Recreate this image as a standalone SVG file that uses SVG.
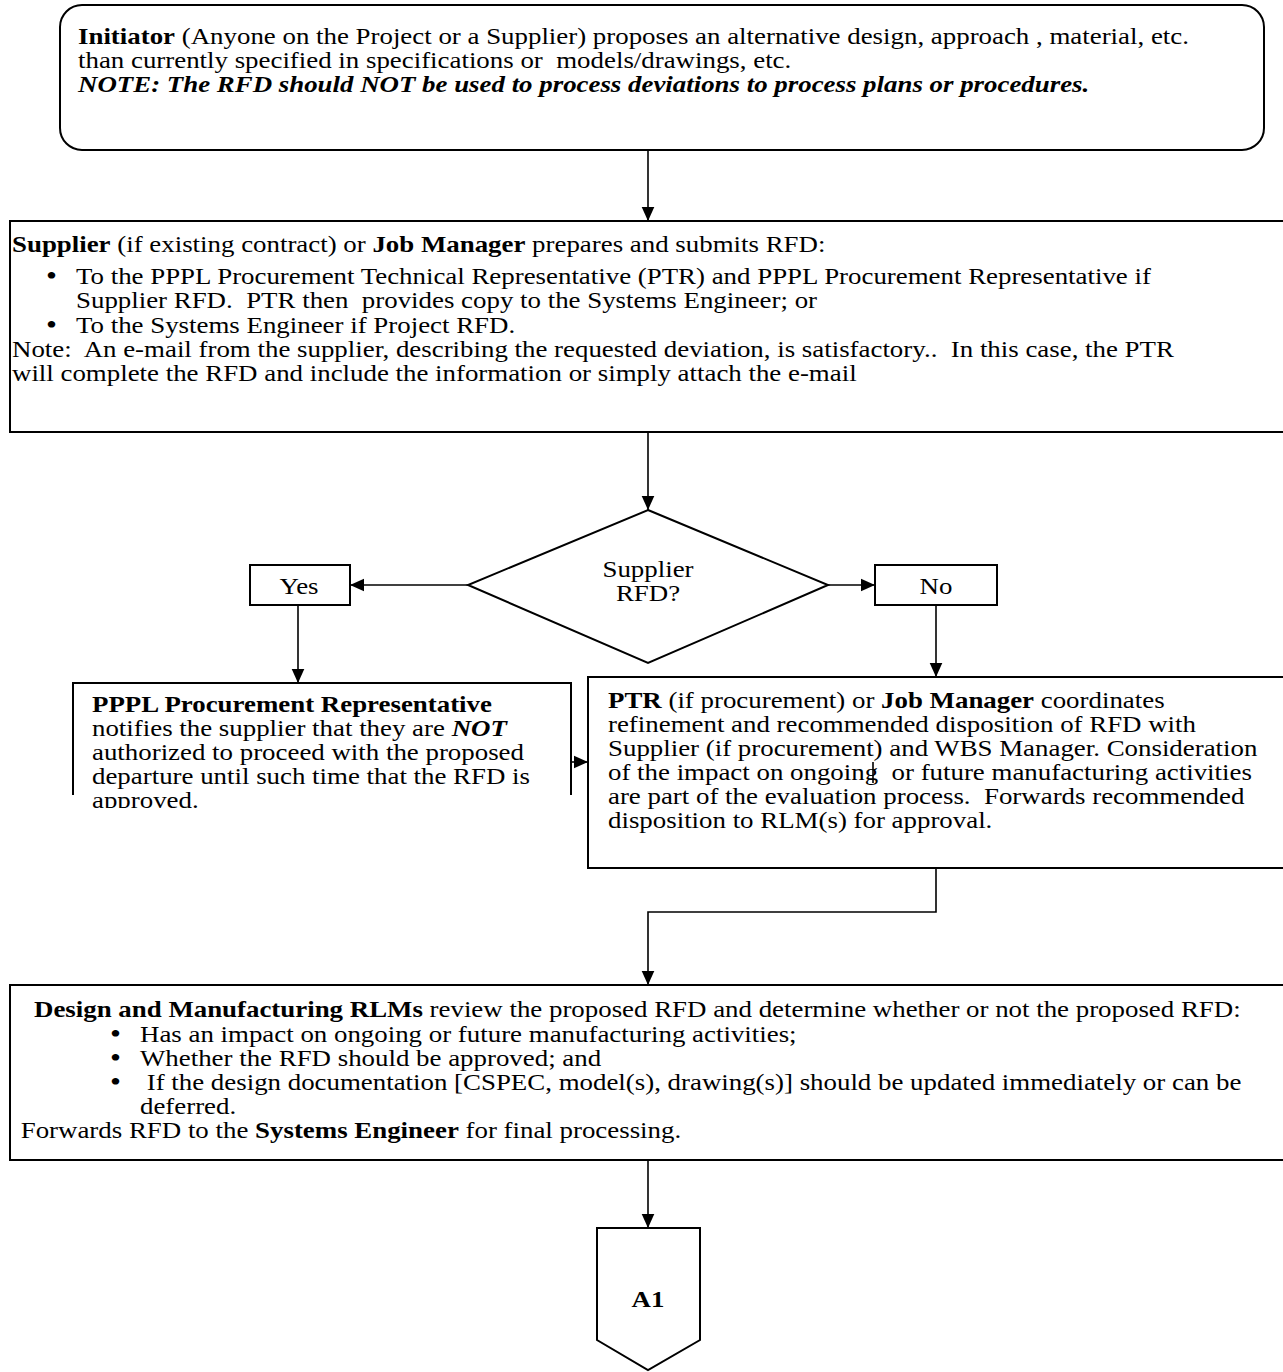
<svg xmlns="http://www.w3.org/2000/svg" width="1283" height="1372" viewBox="0 0 1283 1372">
<style>
text{font-family:"Liberation Serif","Times New Roman",serif;font-size:24px;fill:#000;white-space:pre}
.b{font-weight:bold}
.bi{font-weight:bold;font-style:italic}
.bul{font-size:28px}
.box{fill:#fff;stroke:#000;stroke-width:2}
.ln{fill:none;stroke:#000;stroke-width:1.6}
.mid{text-anchor:middle}
</style>
<defs>
<marker id="ah2" viewBox="0 0 10 10" refX="10" refY="5" markerWidth="15" markerHeight="14" markerUnits="userSpaceOnUse" orient="auto">
<path d="M0,0.5 L10,5 L0,9.5 z" fill="#000"/>
</marker>
<clipPath id="clipL"><rect x="60" y="680" width="520" height="128"/></clipPath>
</defs>

<g id="connectors">
<line class="ln" x1="648" y1="150" x2="648" y2="221" marker-end="url(#ah2)"/>
<line class="ln" x1="648" y1="432" x2="648" y2="510" marker-end="url(#ah2)"/>
<line class="ln" x1="468" y1="585" x2="350" y2="585" marker-end="url(#ah2)"/>
<line class="ln" x1="828" y1="585" x2="875" y2="585" marker-end="url(#ah2)"/>
<line class="ln" x1="298" y1="605" x2="298" y2="683" marker-end="url(#ah2)"/>
<line class="ln" x1="936" y1="605" x2="936" y2="677" marker-end="url(#ah2)"/>
<line class="ln" x1="571" y1="762" x2="588" y2="762" marker-end="url(#ah2)"/>
<polyline class="ln" points="936,868 936,912 648,912 648,985" marker-end="url(#ah2)"/>
<line class="ln" x1="648" y1="1160" x2="648" y2="1228" marker-end="url(#ah2)"/>
</g>

<g id="initiator">
<rect class="box" x="60" y="5" width="1204" height="145" rx="22" ry="22"/>
<text transform="translate(78 44) scale(1.12 1)"><tspan class="b">Initiator</tspan> (Anyone on the Project or a Supplier) proposes an alternative design, approach , material, etc.</text>
<text transform="translate(78 68) scale(1.12 1)">than currently specified in specifications or  models/drawings, etc.</text>
<text class="bi" transform="translate(78 92) scale(1.12 1)">NOTE: The RFD should NOT be used to process deviations to process plans or procedures.</text>
</g>

<g id="submit">
<rect class="box" x="10" y="221" width="1290" height="211"/>
<text transform="translate(12 252) scale(1.12 1)"><tspan class="b">Supplier</tspan> (if existing contract) or <tspan class="b">Job Manager</tspan> prepares and submits RFD:</text>
<text class="bul" transform="translate(46 285) scale(1.12 1)">•</text>
<text transform="translate(76 284) scale(1.12 1)">To the PPPL Procurement Technical Representative (PTR) and PPPL Procurement Representative if</text>
<text transform="translate(76 308) scale(1.12 1)">Supplier RFD.  PTR then  provides copy to the Systems Engineer; or</text>
<text class="bul" transform="translate(46 334) scale(1.12 1)">•</text>
<text transform="translate(76 333) scale(1.12 1)">To the Systems Engineer if Project RFD.</text>
<text transform="translate(12 357) scale(1.12 1)">Note:  An e-mail from the supplier, describing the requested deviation, is satisfactory..  In this case, the PTR</text>
<text transform="translate(12 381) scale(1.12 1)">will complete the RFD and include the information or simply attach the e-mail</text>
</g>

<g id="decision">
<polygon class="box" points="648,510 828,585 648,663 468,585"/>
<text class="mid" transform="translate(648 577) scale(1.12 1)">Supplier</text>
<text class="mid" transform="translate(648 601) scale(1.12 1)">RFD?</text>
</g>

<g id="yes">
<rect class="box" x="250" y="565" width="100" height="40"/>
<text class="mid" transform="translate(299 594) scale(1.12 1)">Yes</text>
</g>

<g id="no">
<rect class="box" x="875" y="565" width="122" height="40"/>
<text class="mid" transform="translate(936 594) scale(1.12 1)">No</text>
</g>

<g id="notify">
<path class="ln" style="stroke-width:2" d="M73,795 L73,683 L571,683 L571,795"/>
<g clip-path="url(#clipL)">
<text class="b" transform="translate(92 712) scale(1.12 1)">PPPL Procurement Representative</text>
<text transform="translate(92 736) scale(1.12 1)">notifies the supplier that they are <tspan class="bi">NOT</tspan></text>
<text transform="translate(92 760) scale(1.12 1)">authorized to proceed with the proposed</text>
<text transform="translate(92 784) scale(1.12 1)">departure until such time that the RFD is</text>
<text transform="translate(92 808) scale(1.12 1)">approved.</text>
</g>
</g>

<g id="coordinate">
<rect class="box" x="588" y="677" width="710" height="191"/>
<text transform="translate(608 708) scale(1.12 1)"><tspan class="b">PTR</tspan> (if procurement) or <tspan class="b">Job Manager</tspan> coordinates</text>
<text transform="translate(608 732) scale(1.12 1)">refinement and recommended disposition of RFD with</text>
<text transform="translate(608 756) scale(1.12 1)">Supplier (if procurement) and WBS Manager. Consideration</text>
<text transform="translate(608 780) scale(1.12 1)">of the impact on ongoing  or future manufacturing activities</text>
<text transform="translate(608 804) scale(1.12 1)">are part of the evaluation process.  Forwards recommended</text>
<text transform="translate(608 828) scale(1.12 1)">disposition to RLM(s) for approval.</text>
<line class="ln" x1="873" y1="762" x2="873" y2="783"/>
</g>

<g id="review">
<rect class="box" x="10" y="985" width="1290" height="175"/>
<text transform="translate(34 1017) scale(1.12 1)"><tspan class="b">Design and Manufacturing RLMs</tspan> review the proposed RFD and determine whether or not the proposed RFD:</text>
<text class="bul" transform="translate(110 1043) scale(1.12 1)">•</text>
<text transform="translate(140 1042) scale(1.12 1)">Has an impact on ongoing or future manufacturing activities;</text>
<text class="bul" transform="translate(110 1067) scale(1.12 1)">•</text>
<text transform="translate(140 1066) scale(1.12 1)">Whether the RFD should be approved; and</text>
<text class="bul" transform="translate(110 1091) scale(1.12 1)">•</text>
<text transform="translate(140 1090) scale(1.12 1)"> If the design documentation [CSPEC, model(s), drawing(s)] should be updated immediately or can be</text>
<text transform="translate(140 1114) scale(1.12 1)">deferred.</text>
<text transform="translate(14 1138) scale(1.12 1)"> Forwards RFD to the <tspan class="b">Systems Engineer</tspan> for final processing.</text>
</g>

<g id="A1">
<polygon class="box" points="597,1228 700,1228 700,1340 648,1370 597,1340"/>
<text class="b mid" transform="translate(648 1307) scale(1.12 1)">A1</text>
</g>
</svg>
